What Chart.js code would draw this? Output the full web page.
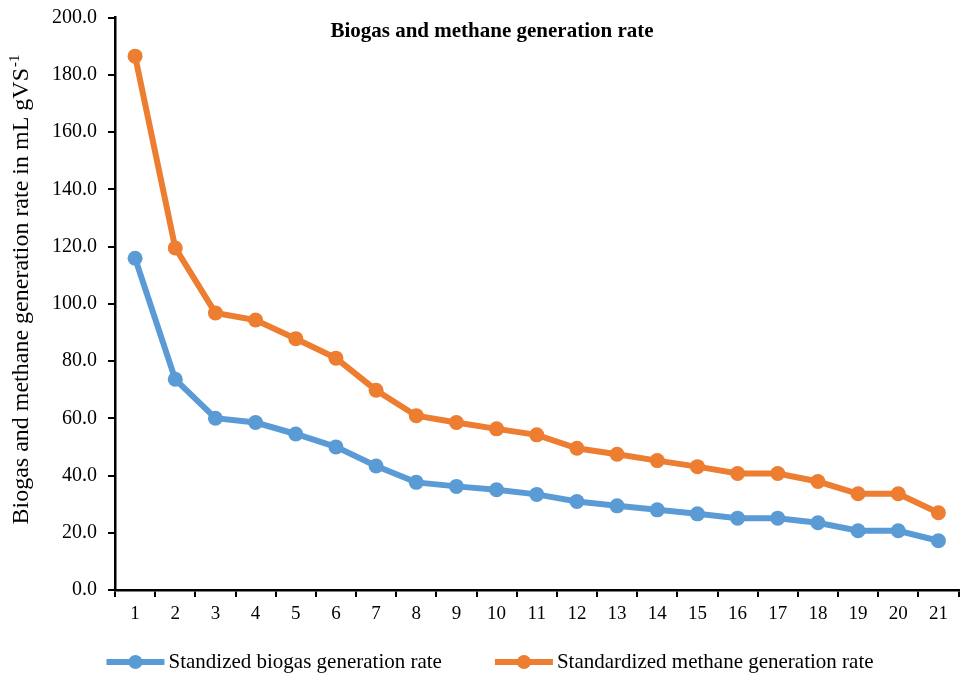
<!DOCTYPE html>
<html>
<head>
<meta charset="utf-8">
<script src="https://cdn.jsdelivr.net/npm/chart.js@4/dist/chart.umd.min.js"></script>
<style>
  html, body { margin: 0; padding: 0; background: #fff; overflow: hidden; }
</style>
</head>
<body>
<canvas id="rateChart" width="966" height="675"></canvas>
<script>
// data (mL gVS-1 per day)
var days = ['1', '2', '3', '4', '5', '6', '7', '8', '9', '10', '11',
            '12', '13', '14', '15', '16', '17', '18', '19', '20', '21'];
var biogasRate = [115.9, 73.6, 60.0, 58.5, 54.5, 50.0, 43.3, 37.6, 36.2, 35.0, 33.4,
                  30.9, 29.4, 28.0, 26.6, 25.1, 25.1, 23.5, 20.7, 20.7, 17.2];
var methaneRate = [186.5, 119.5, 96.8, 94.3, 87.8, 81.0, 69.8, 60.9, 58.5, 56.3, 54.2,
                   49.5, 47.4, 45.2, 43.1, 40.7, 40.7, 37.9, 33.6, 33.6, 27.0];
var seriesNames = ['Standized biogas generation rate', 'Standardized methane generation rate'];
var seriesColors = ['#5B9BD5', '#ED7D31'];
var chartTitle = 'Biogas and methane generation rate';
var yTitle = 'Biogas and methane generation rate in mL gVS';
var yTitleSup = '-1';

var serif = "'Liberation Serif', 'Times New Roman', serif";
Chart.defaults.font.family = serif;
Chart.defaults.color = '#000';

// title inside the plot, rotated y title with superscript, and the legend
var overlayText = {
    id: 'overlayText',
    afterDraw: function(chart) {
        var c = chart.ctx;
        c.save();
        c.fillStyle = '#000';
        c.font = 'bold 21px ' + serif;
        c.textAlign = 'center';
        c.textBaseline = 'middle';
        c.fillText(chartTitle, 492, 32);

        // y axis title
        c.save();
        c.font = '24px ' + serif;
        var mainW = c.measureText(yTitle).width;
        c.font = '15px ' + serif;
        var supW = c.measureText(yTitleSup).width;
        c.translate(22, 290);
        c.rotate(-Math.PI / 2);
        c.textAlign = 'left';
        c.textBaseline = 'middle';
        var x = -(mainW + supW) / 2;
        c.font = '24px ' + serif;
        c.fillText(yTitle, x, 0);
        c.font = '15px ' + serif;
        c.fillText(yTitleSup, x + mainW + 1, -7);
        c.restore();

        // legend: line with marker, then label
        var legendY = 662, swatchW = 58, textGap = 4, itemGap = 53;
        c.font = '21px ' + serif;
        c.textAlign = 'left';
        var sets = chart.data.datasets;
        var total = 0;
        sets.forEach(function(ds, i) {
            total += swatchW + textGap + c.measureText(ds.label).width;
            if (i > 0) total += itemGap;
        });
        var lx = 490 - total / 2;
        sets.forEach(function(ds) {
            c.strokeStyle = ds.borderColor;
            c.lineWidth = 6;
            c.beginPath();
            c.moveTo(lx, legendY);
            c.lineTo(lx + swatchW, legendY);
            c.stroke();
            c.fillStyle = ds.borderColor;
            c.beginPath();
            c.arc(lx + swatchW / 2, legendY, 7, 0, Math.PI * 2);
            c.fill();
            c.fillStyle = '#000';
            c.fillText(ds.label, lx + swatchW + textGap, legendY);
            lx += swatchW + textGap + c.measureText(ds.label).width + itemGap;
        });
        c.restore();
    }
};

var ctx = document.getElementById('rateChart');
new Chart(ctx, {
    type: 'line',
    data: {
        labels: days,
        datasets: [{
            label: seriesNames[0],
            data: biogasRate,
            borderColor: seriesColors[0],
            backgroundColor: seriesColors[0],
            borderWidth: 6,
            pointRadius: 7.5,
            pointBorderWidth: 0,
            tension: 0
        }, {
            label: seriesNames[1],
            data: methaneRate,
            borderColor: seriesColors[1],
            backgroundColor: seriesColors[1],
            borderWidth: 6,
            pointRadius: 7.5,
            pointBorderWidth: 0,
            tension: 0
        }]
    },
    options: {
        responsive: false,
        animation: false,
        layout: {
            padding: { top: 12, right: -6, bottom: 45, left: 0 }
        },
        plugins: {
            title: { display: false },
            tooltip: { enabled: false },
            legend: { display: false }
        },
        scales: {
            x: {
                offset: true,
                grid: {
                    offset: true,
                    drawOnChartArea: false,
                    drawTicks: true,
                    tickLength: 7,
                    color: '#000',
                    lineWidth: 2
                },
                border: { color: '#000', width: 2.5 },
                ticks: {
                    font: { size: 19 },
                    padding: 6,
                    maxRotation: 0,
                    autoSkip: false
                },
                afterFit: function(scale) { scale.height = 40; }
            },
            y: {
                min: 0,
                max: 200,
                grid: {
                    drawOnChartArea: false,
                    drawTicks: true,
                    tickLength: 7,
                    color: '#000',
                    lineWidth: 2
                },
                border: { color: '#000', width: 2.5 },
                ticks: {
                    stepSize: 20,
                    font: { size: 20, lineHeight: 0.65 },
                    padding: 11,
                    callback: function(v) { return v.toFixed(1); }
                },
                afterFit: function(scale) { scale.width = 115; }
            }
        }
    },
    plugins: [overlayText]
});
</script>
</body>
</html>
